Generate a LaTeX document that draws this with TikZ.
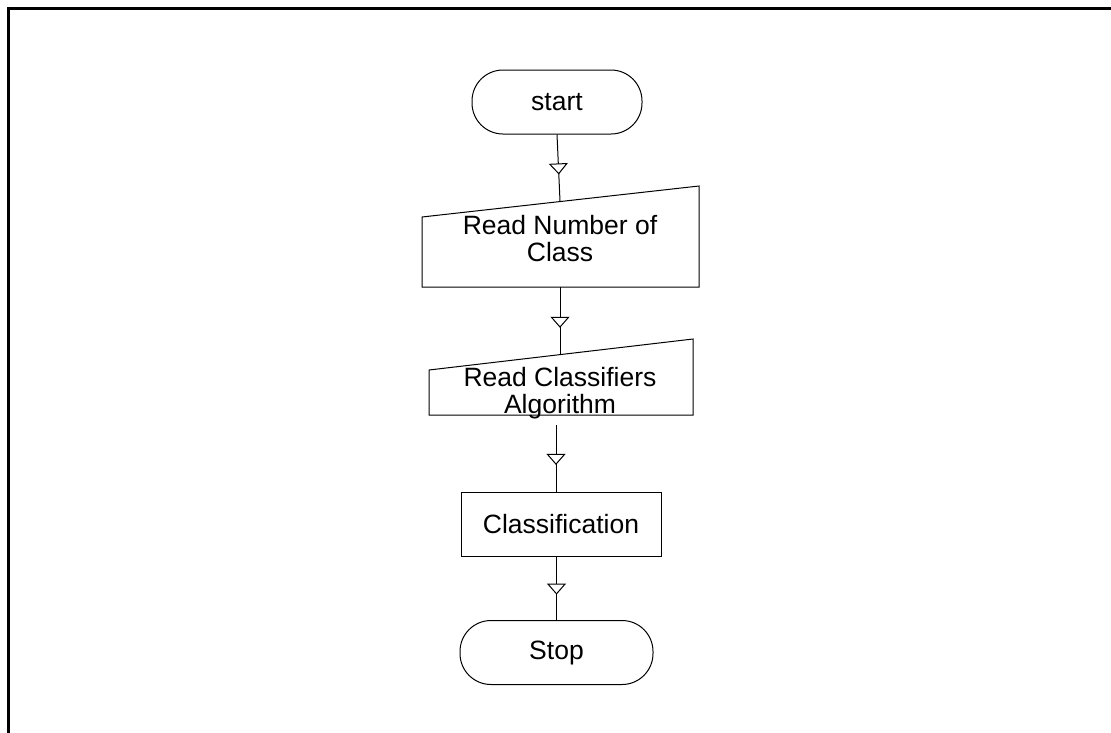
\documentclass[tikz,border=0pt]{standalone}
\usepackage{fontspec}
\setmainfont{Liberation Sans}
\usetikzlibrary{arrows.meta,decorations.markings}
\begin{document}
\begin{tikzpicture}[x=1pt,y=-1pt,
  txt/.style={font=\fontsize{26.5}{27}\selectfont},
  lbl/.style={txt, align=center, inner sep=0pt},
  term/.style={draw, line width=1pt, rounded corners=31pt, minimum height=64pt, inner sep=0pt, txt},
  proc/.style={draw, line width=1pt, minimum width=200pt, minimum height=64pt, inner sep=0pt, txt},
  shapeline/.style={line width=1pt, line join=miter},
  flow/.style={line width=1pt, postaction={decorate},
    decoration={markings, mark=at position 0.6 with {\arrow{Triangle[fill=white, width=19pt, length=11pt]}}}}
]
\useasboundingbox (0,0) rectangle (1111,732);
% frame
\draw[line width=3pt] (8,733) -- (8,8) -- (1112,8);

% start
\node[term, minimum width=170pt] (start) at (557,102) {start};

% read number of class (manual input)
\draw[shapeline] (422,217) -- (699,186) -- (699,287) -- (422,287) -- cycle;
\node[lbl] (rn) at (560,239) {Read Number of\\Class};
\coordinate (rntop) at (560,201);
\coordinate (rnbot) at (560,287);

% read classifiers algorithm (manual input)
\draw[shapeline] (429,370) -- (693,339) -- (693,415) -- (429,415) -- cycle;
\node[lbl] (rc) at (560,393) {Read Classifiers\\Algorithm};
\coordinate (rctop) at (560,355);
\coordinate (rcout) at (556,425);

% classification
\node[proc] (cls) at (561,524) {Classification};

% stop
\node[term, minimum width=193pt] (stop) at (556.5,652.5) {Stop};

% connectors
\draw[flow] (start.south) -- (rntop);
\draw[flow] (rnbot) -- (rctop);
\draw[flow] (rcout) -- (rcout |- cls.north);
\draw[flow] (cls.south -| stop.north) -- (stop.north);
\end{tikzpicture}
\end{document}
